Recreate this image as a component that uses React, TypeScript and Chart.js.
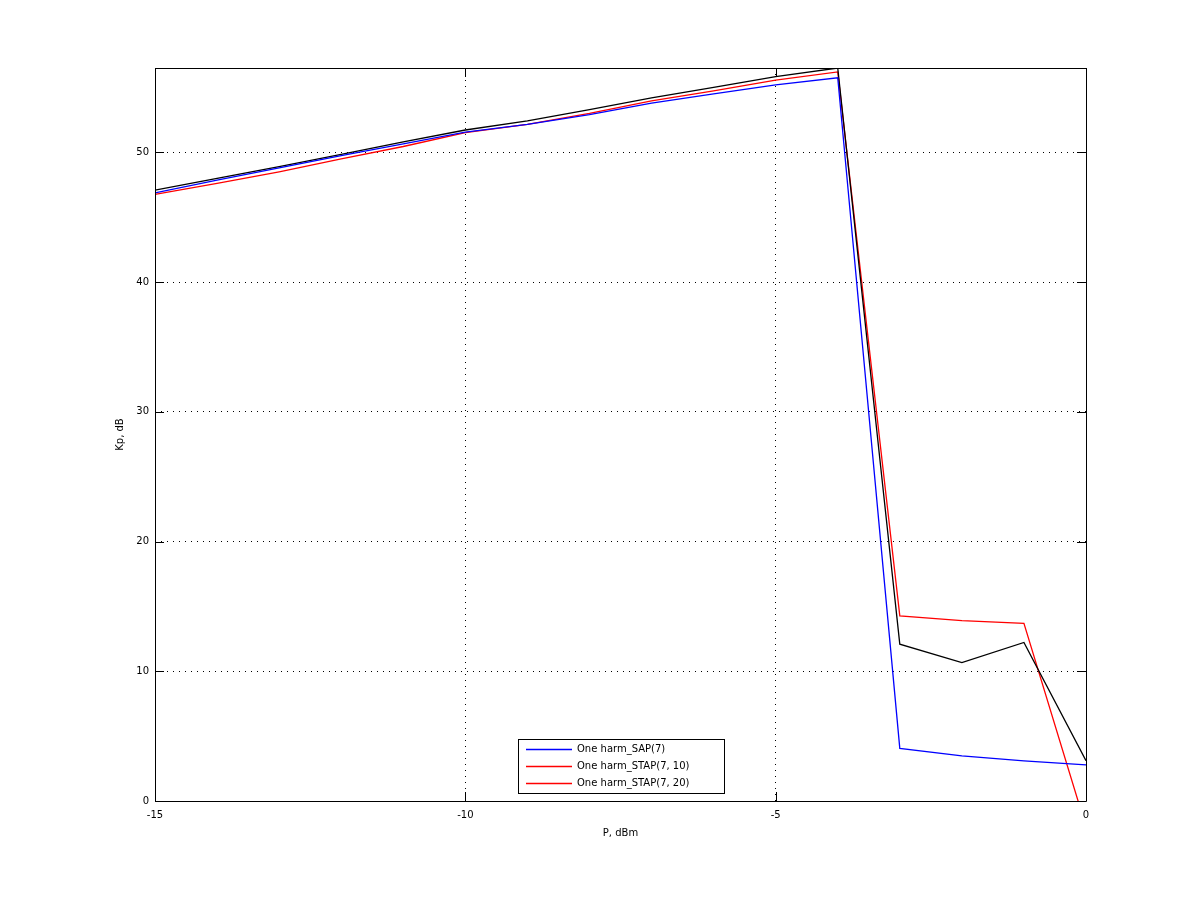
import React, { useEffect, useRef } from 'react';
import Chart from 'chart.js/auto';

// input power, dBm
const pValues = [-15, -14, -13, -12, -11, -10, -9, -8, -7, -6, -5, -4, -3, -2, -1, 0];

// power gain Kp, dB
const sap7 = [46.88, 47.85, 48.8, 49.75, 50.65, 51.55, 52.16, 52.9, 53.8, 54.5, 55.2, 55.75, 4.06, 3.48, 3.09, 2.78];
const stap7_10 = [47.09, 48.0, 48.9, 49.85, 50.8, 51.72, 52.43, 53.3, 54.2, 55.0, 55.84, 56.5, 12.09, 10.67, 12.22, 3.11];
const stap7_20 = [46.76, 47.6, 48.5, 49.5, 50.45, 51.52, 52.16, 53.0, 53.97, 54.74, 55.56, 56.2, 14.27, 13.9, 13.7, -2.0];

const seriesLabels = ['One harm_SAP(7)', 'One harm_STAP(7, 10)', 'One harm_STAP(7, 20)'];
const xTicks = [-15, -10, -5, 0];
const yTicks = [0, 10, 20, 30, 40, 50];

const FAMILY = '"DejaVu Sans", sans-serif';

// box around the axes with short inward ticks, matlab style
const framePlugin = {
  id: 'frame',
  afterDatasetsDraw(chart: any) {
    const { ctx, chartArea: a, scales } = chart;
    ctx.save();
    ctx.strokeStyle = '#000';
    ctx.lineWidth = 1;
    ctx.beginPath();
    ctx.rect(Math.round(a.left) + 0.5, Math.round(a.top) + 0.5, Math.round(a.right - a.left), Math.round(a.bottom - a.top));
    const len = 9;
    xTicks.forEach((v) => {
      const px = Math.round(scales.x.getPixelForValue(v)) + 0.5;
      ctx.moveTo(px, a.bottom);
      ctx.lineTo(px, a.bottom - len);
      ctx.moveTo(px, a.top);
      ctx.lineTo(px, a.top + len);
    });
    yTicks.forEach((v) => {
      const py = Math.round(scales.y.getPixelForValue(v)) + 0.5;
      ctx.moveTo(a.left, py);
      ctx.lineTo(a.left + len, py);
      ctx.moveTo(a.right, py);
      ctx.lineTo(a.right - len, py);
    });
    ctx.stroke();
    ctx.restore();
  },
};

// legend box inside the plot, bottom centre (the reference shows red for both STAP entries)
const legendColors = ['#0000ff', '#ff0000', '#ff0000'];
const legendPlugin = {
  id: 'boxLegend',
  afterDraw(chart: any) {
    const { ctx, chartArea: a } = chart;
    const w = 206;
    const h = 54;
    const x0 = Math.round((a.left + a.right) / 2 - w / 2);
    const y0 = Math.round(a.bottom - 8 - h);
    ctx.save();
    ctx.fillStyle = '#ffffff';
    ctx.fillRect(x0, y0, w, h);
    ctx.strokeStyle = '#000000';
    ctx.lineWidth = 1;
    ctx.strokeRect(x0 + 0.5, y0 + 0.5, w, h);
    ctx.font = '10px ' + FAMILY;
    ctx.textBaseline = 'middle';
    ctx.textAlign = 'left';
    seriesLabels.forEach((label, i) => {
      const y = y0 + 10.5 + i * 17;
      ctx.save();
      ctx.beginPath();
      ctx.strokeStyle = legendColors[i];
      ctx.lineWidth = 1.3;
      ctx.moveTo(x0 + 8, y);
      ctx.lineTo(x0 + 54, y);
      ctx.stroke();
      ctx.restore();
      ctx.fillStyle = '#000000';
      ctx.fillText(label, x0 + 59, y);
    });
    ctx.restore();
  },
};

const App: React.FC = () => {
  const canvasRef = useRef<HTMLCanvasElement | null>(null);

  useEffect(() => {
    document.body.style.margin = '0';
    if (!canvasRef.current) return;
    const toPoints = (ys: number[]) => ys.map((y, i) => ({ x: pValues[i], y }));
    const line = (label: string, ys: number[], color: string) => ({
      label,
      data: toPoints(ys),
      borderColor: color,
      backgroundColor: color,
      borderWidth: 1.3,
      pointRadius: 0,
      tension: 0,
      fill: false,
    });

    const chart = new Chart(canvasRef.current, {
      type: 'line',
      data: {
        datasets: [
          line(seriesLabels[0], sap7, '#0000ff'),
          line(seriesLabels[1], stap7_10, '#000000'),
          line(seriesLabels[2], stap7_20, '#ff0000'),
        ],
      },
      options: {
        responsive: false,
        animation: false,
        devicePixelRatio: 1,
        layout: { padding: { left: 0, top: 68, right: 114, bottom: 0 } },
        plugins: { legend: { display: false }, tooltip: { enabled: false } },
        scales: {
          x: {
            type: 'linear',
            min: -15,
            max: 0,
            afterFit: (s: any) => { s.height = 100; },
            afterBuildTicks: (s: any) => { s.ticks = xTicks.map((v) => ({ value: v })); },
            ticks: { color: '#000', font: { family: FAMILY, size: 10 }, padding: 8, maxRotation: 0, callback: (v: any) => String(v) },
            grid: { color: '#000', lineWidth: 1, drawTicks: false },
            border: { display: false, dash: [1, 5] },
            title: { display: true, text: 'P, dBm', color: '#000', font: { family: FAMILY, size: 10 }, padding: { top: 0, bottom: 62 } },
          },
          y: {
            type: 'linear',
            min: 0,
            max: 56.5,
            afterFit: (s: any) => { s.width = 155; },
            afterBuildTicks: (s: any) => { s.ticks = yTicks.map((v) => ({ value: v })); },
            ticks: { color: '#000', font: { family: FAMILY, size: 10 }, padding: 6, callback: (v: any) => String(v) },
            grid: { color: '#000', lineWidth: 1, drawTicks: false },
            border: { display: false, dash: [1, 5] },
            title: { display: true, text: 'Kp, dB', color: '#000', font: { family: FAMILY, size: 10 }, padding: { top: 114, bottom: 0 } },
          },
        },
      },
      plugins: [framePlugin, legendPlugin],
    });

    return () => chart.destroy();
  }, []);

  return (
    <div style={{ width: 1200, height: 901, background: '#fff' }}>
      <canvas ref={canvasRef} width={1200} height={901} style={{ display: 'block' }} />
    </div>
  );
};

export default App;
